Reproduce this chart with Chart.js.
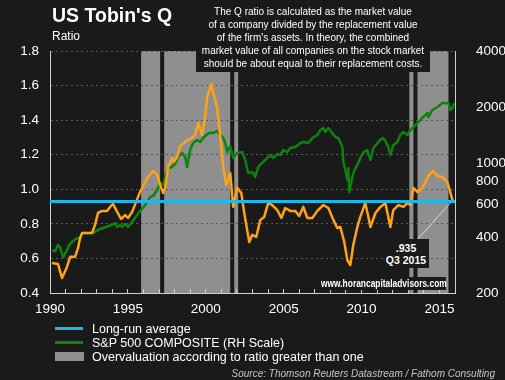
<!DOCTYPE html>
<html>
<head>
<meta charset="utf-8">
<script src="https://cdn.jsdelivr.net/npm/chart.js@4.4.0/dist/chart.umd.min.js"></script>
<style>
  body { margin: 0; background: #1a1a1a; font-family: "Liberation Sans", Arial, sans-serif; color: #fff; }
  #wrap { position: relative; width: 505px; height: 380px; overflow: hidden; }
  #chart { position: absolute; left: 0; top: 0; }
  .abs { position: absolute; white-space: nowrap; }
  #title { left: 52px; top: 3px; font-size: 19.5px; font-weight: bold; line-height: 24px; }
  #ratio { left: 52px; top: 29px; font-size: 12px; line-height: 14px; }
  #note { left: 196px; top: 0; width: 234px; height: 72px; background: #1a1a1a; font-size: 10px;
          line-height: 13px; text-align: center; padding-top: 5px; box-sizing: border-box; }
  #q3 { left: 383px; top: 239px; width: 46px; height: 29px; background: #1a1a1a; font-size: 10.5px;
        font-weight: bold; line-height: 12px; text-align: center; padding-top: 3px; box-sizing: border-box; }
  #web { left: 318px; top: 277px; width: 128px; height: 13px; background: #1a1a1a; }
  #web span { position: absolute; left: 3px; top: 0; font-size: 10px; font-weight: bold; line-height: 13px;
              transform: scaleX(0.84); transform-origin: left center; }
  .leg { position: absolute; left: 55px; }
  .legtxt { position: absolute; left: 92px; font-size: 12.5px; line-height: 14px; }
  #source { right: 10px; top: 368px; font-size: 10px; font-style: italic; line-height: 12px; color: #c4c4c4; }
</style>
</head>
<body>
<div id="wrap">
  <canvas id="chart" width="505" height="380"></canvas>
  <div class="abs" id="title">US Tobin's Q</div>
  <div class="abs" id="ratio">Ratio</div>
  <div class="abs" id="note">The Q ratio is calculated as the market value<br>of a company divided by the replacement value<br>of the firm's assets. In theory, the combined<br>market value of all companies on the stock market<br>should be about equal to their replacement costs.</div>
  <div class="abs" id="q3">.935<br>Q3 2015</div>
  <div class="abs" id="web"><span>www.horancapitaladvisors.com</span></div>

  <div class="leg" style="top:327px;width:28px;height:3px;background:#1fb6e8;"></div>
  <div class="legtxt" style="top:322px;">Long-run average</div>
  <div class="leg" style="top:341px;width:28px;height:3px;background:#0a840a;"></div>
  <div class="legtxt" style="top:336px;">S&amp;P 500 COMPOSITE (RH Scale)</div>
  <div class="leg" style="top:352px;width:29px;height:9px;background:#8f8f8f;"></div>
  <div class="legtxt" style="top:350px;">Overvaluation according to ratio greater than one</div>

  <div class="abs" id="source">Source: Thomson Reuters Datastream / Fathom Consulting</div>
</div>

<script>
// ==========================================
// Data
// ==========================================
const qYears = [
  1990.13, 1990.51, 1990.77, 1991.09, 1991.29, 1991.61, 1991.80, 1991.93, 1992.06, 1992.44,
  1992.70, 1992.89, 1993.08, 1993.34, 1993.66, 1993.86, 1994.05, 1994.31, 1994.56, 1994.82,
  1995.01, 1995.27, 1995.53, 1995.78, 1996.11, 1996.30, 1996.62, 1996.88, 1997.07, 1997.26,
  1997.39, 1997.58, 1997.84, 1997.96, 1998.16, 1998.35, 1998.55, 1998.80, 1999.00, 1999.32,
  1999.51, 1999.77, 1999.96, 2000.09, 2000.35, 2000.48, 2000.73, 2000.93, 2001.12, 2001.31,
  2001.57, 2001.76, 2002.02, 2002.28, 2002.47, 2002.79, 2002.98, 2003.24, 2003.50, 2003.75,
  2004.01, 2004.27, 2004.59, 2004.85, 2005.10, 2005.42, 2005.75, 2006.00, 2006.26, 2006.52,
  2006.84, 2007.16, 2007.55, 2007.87, 2008.19, 2008.44, 2008.64, 2008.89, 2009.09, 2009.28,
  2009.47, 2009.73, 2009.92, 2010.24, 2010.44, 2010.57, 2010.89, 2011.21, 2011.53, 2011.85,
  2012.04, 2012.36, 2012.69, 2012.94, 2013.14, 2013.33, 2013.59, 2013.91, 2014.29, 2014.61,
  2014.87, 2015.19, 2015.51, 2015.71, 2015.84
];
const qRatio = [
  0.574, 0.568, 0.487, 0.551, 0.609, 0.609, 0.661, 0.718, 0.747, 0.747,
  0.747, 0.794, 0.863, 0.875, 0.875, 0.898, 0.915, 0.869, 0.828, 0.851,
  0.834, 0.869, 0.927, 0.985, 1.042, 1.071, 1.106, 1.083, 1.025, 0.979,
  1.008, 1.129, 1.181, 1.160, 1.187, 1.251, 1.262, 1.285, 1.291, 1.314,
  1.384, 1.314, 1.418, 1.534, 1.609, 1.557, 1.476, 1.303, 1.129, 1.025,
  1.094, 0.898, 1.008, 0.979, 0.863, 0.695, 0.736, 0.724, 0.823, 0.840,
  0.921, 0.909, 0.880, 0.834, 0.892, 0.875, 0.875, 0.846, 0.898, 0.834,
  0.834, 0.875, 0.909, 0.892, 0.823, 0.776, 0.782, 0.695, 0.590, 0.562,
  0.678, 0.782, 0.840, 0.921, 0.840, 0.782, 0.863, 0.898, 0.921, 0.782,
  0.880, 0.909, 0.898, 0.921, 0.909, 1.008, 0.984, 1.008, 1.077, 1.106,
  1.077, 1.071, 1.042, 0.979, 0.935
];

const spYears = [
  1990.13, 1990.32, 1990.51, 1990.64, 1990.84, 1991.09, 1991.22, 1991.48, 1991.74, 1991.93,
  1992.06, 1992.38, 1992.70, 1992.89, 1993.21, 1993.41, 1993.73, 1993.98, 1994.18, 1994.31,
  1994.50, 1994.63, 1994.82, 1995.01, 1995.27, 1995.59, 1995.78, 1996.11, 1996.43, 1996.62,
  1996.88, 1997.07, 1997.26, 1997.39, 1997.58, 1997.84, 1998.03, 1998.23, 1998.48, 1998.68,
  1998.80, 1999.00, 1999.19, 1999.45, 1999.64, 1999.83, 2000.03, 2000.22, 2000.48, 2000.73,
  2000.93, 2001.12, 2001.25, 2001.38, 2001.57, 2001.76, 2002.02, 2002.34, 2002.53, 2002.72,
  2002.98, 2003.17, 2003.37, 2003.62, 2003.95, 2004.14, 2004.33, 2004.59, 2004.78, 2004.97,
  2005.23, 2005.42, 2005.75, 2006.07, 2006.26, 2006.58, 2006.84, 2007.16, 2007.35, 2007.55,
  2007.67, 2007.87, 2008.12, 2008.32, 2008.51, 2008.77, 2008.83, 2008.96, 2009.09, 2009.15,
  2009.22, 2009.41, 2009.54, 2009.73, 2009.92, 2010.12, 2010.37, 2010.57, 2010.76, 2011.08,
  2011.34, 2011.53, 2011.72, 2011.85, 2012.04, 2012.30, 2012.49, 2012.69, 2012.94, 2013.14,
  2013.33, 2013.59, 2013.91, 2014.23, 2014.29, 2014.55, 2014.87, 2015.19, 2015.39, 2015.58,
  2015.71, 2015.84, 2015.96
];
const sp500 = [
  340, 336, 362, 353, 312, 340, 362, 381, 395, 390,
  420, 420, 420, 426, 442, 447, 458, 464, 476, 453,
  464, 453, 470, 453, 482, 525, 552, 594, 656, 665,
  716, 781, 761, 841, 940, 952, 988, 1077, 1131, 1077,
  952, 1174, 1281, 1329, 1297, 1363, 1414, 1450, 1450, 1486,
  1414, 1363, 1281, 1145, 1234, 1064, 1131, 1145, 1038, 884,
  895, 841, 952, 1000, 1064, 1104, 1064, 1117, 1104, 1174,
  1145, 1204, 1219, 1281, 1297, 1281, 1363, 1414, 1504, 1542,
  1468, 1542, 1450, 1380, 1363, 1219, 1012, 917, 810, 940,
  698, 841, 917, 975, 1064, 1145, 1174, 1038, 1204, 1297,
  1363, 1313, 1219, 1104, 1249, 1297, 1414, 1468, 1414, 1504,
  1561, 1641, 1746, 1857, 1767, 1927, 2000, 2102, 2102, 2102,
  1927, 1975, 2102
];

const avgYears = [1990, 2016];
const longRunAvg = [0.93, 0.93];

// periods where the ratio was above one
const bandStarts = [1995.85, 1997.33, 2001.83, 2013.07, 2013.59];
const bandEnds   = [1997.07, 2001.57, 2002.08, 2013.33, 2015.58];

// one tick mark per year, label every five
const xTicks = [];
for (let y = 1990; y <= 2016; y++) xTicks.push(y);
const leftTicks = [0.4, 0.6, 0.8, 1.0, 1.2, 1.4, 1.6, 1.8];
const rightTicks = [200, 400, 600, 800, 1000, 2000, 4000];

// ==========================================
// Plugins: grey bands + pointer to last value
// ==========================================
const bandsPlugin = {
  id: "bands",
  beforeDraw(chart) {
    const { ctx, chartArea, scales } = chart;
    ctx.save();
    ctx.fillStyle = "#8f8f8f";
    bandStarts.forEach((s, i) => {
      const x0 = scales.x.getPixelForValue(s);
      const x1 = scales.x.getPixelForValue(bandEnds[i]);
      ctx.fillRect(x0, chartArea.top, x1 - x0, chartArea.bottom - chartArea.top);
    });
    ctx.restore();
  }
};

const pointerPlugin = {
  id: "pointer",
  beforeDatasetsDraw(chart) {
    const { ctx, scales } = chart;
    const n = qYears.length - 1;
    const px = scales.x.getPixelForValue(qYears[n]);
    const py = scales.y.getPixelForValue(qRatio[n]);
    ctx.save();
    ctx.strokeStyle = "#d8d8d8";
    ctx.lineWidth = 1;
    ctx.beginPath();
    ctx.moveTo(418, 239);
    ctx.lineTo(px, py);
    ctx.stroke();
    ctx.restore();
  }
};

const toXY = (xs, ys) => xs.map((x, i) => ({ x: x, y: ys[i] }));

const tickFont = { family: "'Liberation Sans', Arial, sans-serif", size: 13.5 };

// ==========================================
// Chart
// ==========================================
new Chart(document.getElementById("chart"), {
  type: "line",
  data: {
    datasets: [
      {
        label: "Long-run average",
        data: toXY(avgYears, longRunAvg),
        borderColor: "#1fb6e8",
        borderWidth: 3,
        pointRadius: 0,
        yAxisID: "y"
      },
      {
        label: "Tobin's Q",
        data: toXY(qYears, qRatio),
        borderColor: "#ffa216",
        borderWidth: 2.5,
        pointRadius: 0,
        borderJoinStyle: "round",
        yAxisID: "y"
      },
      {
        label: "S&P 500 COMPOSITE (RH Scale)",
        data: toXY(spYears, sp500),
        borderColor: "#0a840a",
        borderWidth: 2.5,
        pointRadius: 0,
        borderJoinStyle: "round",
        yAxisID: "y1"
      }
    ]
  },
  options: {
    responsive: false,
    animation: false,
    layout: { padding: { top: 51, bottom: 63, left: 0, right: 0 } },
    plugins: { legend: { display: false }, tooltip: { enabled: false } },
    scales: {
      x: {
        type: "linear",
        min: 1990,
        max: 2016,
        afterBuildTicks: s => { s.ticks = xTicks.map(v => ({ value: v })); },
        afterFit: s => { s.height = 24; },
        ticks: {
          color: "#fff", font: tickFont, padding: 12, maxRotation: 0, autoSkip: false,
          callback: v => (v % 5 === 0 ? String(v) : "")
        },
        grid: { display: true, drawOnChartArea: false, drawTicks: true, tickLength: -4, color: "#d0d0d0" },
        border: { display: true, color: "#d0d0d0", width: 1 }
      },
      y: {
        position: "left",
        min: 0.4,
        max: 1.8,
        afterBuildTicks: s => { s.ticks = leftTicks.map(v => ({ value: v })); },
        afterFit: s => { s.width = 50; },
        ticks: { color: "#fff", font: tickFont, padding: 11, callback: v => v.toFixed(1) },
        grid: { color: "#5a5a5a", lineWidth: 1, drawTicks: false },
        border: { display: true, color: "#d0d0d0", width: 1, dash: [2, 3] }
      },
      y1: {
        type: "logarithmic",
        position: "right",
        min: 200,
        max: 4000,
        afterBuildTicks: s => { s.ticks = rightTicks.map(v => ({ value: v })); },
        afterFit: s => { s.width = 50; },
        ticks: { color: "#fff", font: tickFont, padding: 13, callback: v => String(v) },
        grid: { display: false },
        border: { display: true, color: "#d0d0d0", width: 1 }
      }
    }
  },
  plugins: [bandsPlugin, pointerPlugin]
});
</script>
</body>
</html>
